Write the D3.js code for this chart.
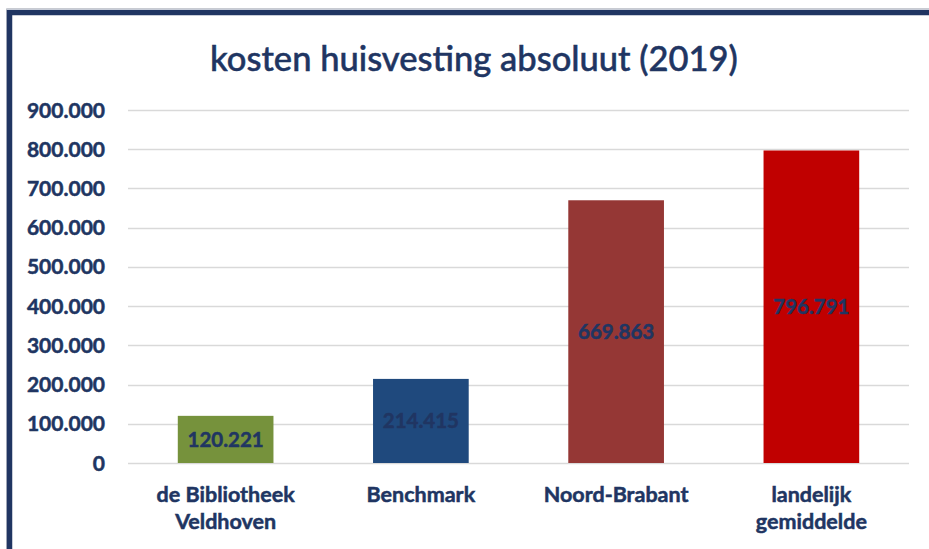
<!DOCTYPE html>
<html>
<head>
<meta charset="utf-8">
<script src="https://cdnjs.cloudflare.com/ajax/libs/d3/7.8.5/d3.min.js"></script>
<style>
    body { margin: 0; background: #ffffff; }
    svg text { font-family: "Lato", "Open Sans", sans-serif; fill: #203562; }
    svg text.heavy { font-weight: bold; stroke: #203562; stroke-width: 0.5px; }
</style>
</head>
<body>
<script>

// Chart data
var categories = [["de Bibliotheek", "Veldhoven"], ["Benchmark"], ["Noord-Brabant"], ["landelijk", "gemiddelde"]];
var values = [120221, 214415, 669863, 796791];
var barColors = ["#76923c", "#1f497d", "#953735", "#c00000"];
var yTicks = [0, 100000, 200000, 300000, 400000, 500000, 600000, 700000, 800000, 900000];
var title = "kosten huisvesting absoluut (2019)";

/*
 * Draws the bar chart
 */

window.onload = function() {

    var svgWidth = 929;
    var svgHeight = 549;

    // Plot area
    var left = 128;
    var right = 909;
    var top = 110;
    var bottom = 463;

    // Dutch number format with dots as thousands separator
    var nl = d3.formatLocale({decimal: ",", thousands: ".", grouping: [3], currency: ["€", ""]});
    var fmt = nl.format(",d");

    const svg = d3.select("body").append("svg")
        .attr("width", svgWidth)
        .attr("height", svgHeight);

    // Frame: thin grey outline with thick navy border
    svg.append("path")
        .attr("d", `M6.5,${svgHeight} V8.5 H${svgWidth}`)
        .attr("fill", "none")
        .attr("stroke", "#c8cbd2")
        .attr("stroke-width", 1);
    svg.append("path")
        .attr("d", `M9.5,${svgHeight} V12.5 H${svgWidth}`)
        .attr("fill", "none")
        .attr("stroke", "#203562")
        .attr("stroke-width", 5.5);

    const xScale = d3.scaleBand()
        .domain(d3.range(categories.length))
        .range([left, right])
        .paddingInner(0.51)
        .paddingOuter(0.255);

    const yScale = d3.scaleLinear()
        .domain([0, 900000])
        .range([bottom, top]);

    // Horizontal gridlines
    svg.append("g")
        .selectAll("line")
        .data(yTicks)
        .enter()
        .append("line")
        .attr("x1", left)
        .attr("x2", right)
        .attr("y1", function(d) { return Math.round(yScale(d)) + 0.5; })
        .attr("y2", function(d) { return Math.round(yScale(d)) + 0.5; })
        .attr("stroke", "#d9d9d9")
        .attr("stroke-width", 1.5);

    // Y axis labels
    svg.append("g")
        .selectAll("text")
        .data(yTicks)
        .enter()
        .append("text")
        .attr("class", "heavy")
        .attr("x", 105)
        .attr("y", function(d) { return yScale(d); })
        .attr("dy", "0.36em")
        .attr("text-anchor", "end")
        .attr("font-size", "21px")
        .text(function(d) { return fmt(d); });

    // Bars
    svg.append("g")
        .selectAll("rect")
        .data(values)
        .enter()
        .append("rect")
        .attr("x", function(d, i) { return xScale(i); })
        .attr("y", function(d) { return yScale(d); })
        .attr("width", xScale.bandwidth())
        .attr("height", function(d) { return yScale(0) - yScale(d); })
        .attr("fill", function(d, i) { return barColors[i]; });

    // Value labels in the middle of each bar
    svg.append("g")
        .selectAll("text")
        .data(values)
        .enter()
        .append("text")
        .attr("class", "heavy")
        .attr("x", function(d, i) { return xScale(i) + xScale.bandwidth() / 2; })
        .attr("y", function(d) { return (yScale(d) + yScale(0)) / 2; })
        .attr("dy", "0.36em")
        .attr("text-anchor", "middle")
        .attr("font-size", "20.5px")
        .text(function(d) { return fmt(d); });

    // Category labels
    var cats = svg.append("g")
        .selectAll("text")
        .data(categories)
        .enter()
        .append("text")
        .attr("class", "heavy")
        .attr("text-anchor", "middle")
        .attr("font-size", "21.5px");

    cats.selectAll("tspan")
        .data(function(d, i) { return d.map(function(line) { return {line: line, i: i}; }); })
        .enter()
        .append("tspan")
        .attr("x", function(d) { return xScale(d.i) + xScale.bandwidth() / 2; })
        .attr("y", function(d, j) { return 502 + j * 27; })
        .text(function(d) { return d.line; });

    // Title
    svg.append("text")
        .attr("x", 474)
        .attr("y", 71)
        .attr("text-anchor", "middle")
        .attr("font-size", "34.5px")
        .attr("font-weight", 500)
        .attr("stroke", "#203562")
        .attr("stroke-width", 0.5)
        .text(title);
};

</script>
</body>
</html>
